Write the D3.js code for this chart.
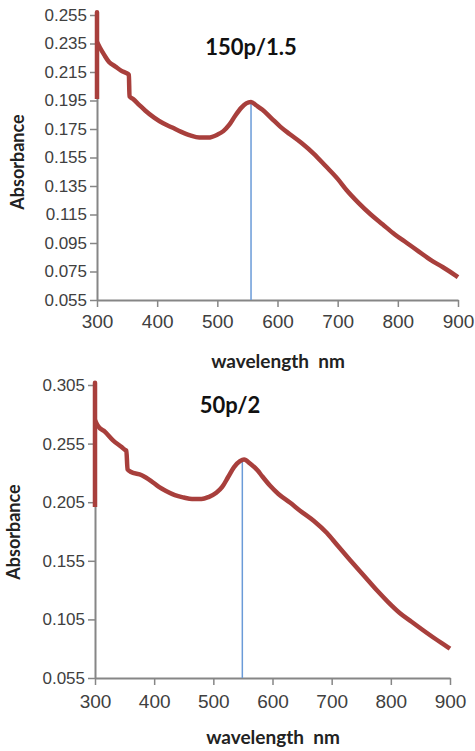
<!DOCTYPE html>
<html>
<head>
<meta charset="utf-8">
<script src="https://cdn.jsdelivr.net/npm/d3@7"></script>
<style>
  body { margin: 0; background: #fff; }
  svg { display: block; font-family: Lato, 'Open Sans', sans-serif; }
  .axis path, .axis line { stroke: #868686; }
  .axis path { stroke-width: 2; }
  .axis line { stroke-width: 1.5; }
  .axis text { fill: #404040; }
</style>
</head>
<body>
<div id="chart-area"></div>
<script>
// top panel: 150p/1.5
const topWl = [300, 300, 300, 305, 312, 320, 330, 340, 350, 353, 354, 360, 370, 380, 395, 410, 425, 440, 455, 470,
               485, 500, 510, 520, 530, 540, 548, 556, 565, 575, 590, 605, 620, 640, 660, 680, 700, 715, 735, 755,
               775, 795, 815, 835, 855, 875, 895, 900]
const topAbs = [0.196, 0.257, 0.236, 0.232, 0.227, 0.222, 0.219, 0.216, 0.214, 0.213, 0.198, 0.196, 0.192, 0.188, 0.183, 0.179, 0.176, 0.173, 0.1705, 0.169,
                0.169, 0.171, 0.1735, 0.178, 0.1845, 0.190, 0.193, 0.194, 0.1915, 0.1885, 0.1825, 0.1765, 0.1715, 0.1652, 0.1578, 0.149, 0.140, 0.132, 0.123, 0.115,
                0.108, 0.101, 0.095, 0.089, 0.083, 0.078, 0.0725, 0.071]
const topTicks = [0.055, 0.075, 0.095, 0.115, 0.135, 0.155, 0.175, 0.195, 0.215, 0.235, 0.255]
const topPeak = 556

// bottom panel: 50p/2
const botWl = [300, 300, 300, 305, 317, 330, 345, 351, 353, 355, 360, 379, 395, 408, 420, 435, 450, 464, 480, 492,
               505, 515, 525, 535, 545, 552, 562, 575, 582, 596, 610, 630, 646, 670, 692, 710, 731, 755, 776, 795,
               815, 835, 854, 875, 896, 900]
const botAbs = [0.201, 0.307, 0.275, 0.270, 0.265, 0.258, 0.252, 0.2495, 0.249, 0.233, 0.231, 0.228, 0.223, 0.218, 0.2145, 0.211, 0.209, 0.2077, 0.2077, 0.2094,
                0.213, 0.218, 0.2265, 0.235, 0.240, 0.2415, 0.238, 0.232, 0.2275, 0.219, 0.212, 0.2045, 0.198, 0.189, 0.1787, 0.168, 0.1557, 0.142, 0.130, 0.120,
                0.1105, 0.103, 0.096, 0.0885, 0.0814, 0.080]
const botTicks = [0.055, 0.105, 0.155, 0.205, 0.255, 0.305]
const botPeak = 549

const xTicks = [300, 400, 500, 600, 700, 800, 900]

const svg = d3.select('#chart-area')
              .append('svg')
              .attr('width', 475)
              .attr('height', 751)

const drawPanel = (p) => {
    const x = d3.scaleLinear().domain([300, 900]).range([p.left, p.right])
    const y = d3.scaleLinear().domain([0.055, p.yMax]).range([p.bottom, p.top])
    const g = svg.append('g')

    // Y Axis
    g.append('g')
     .attr('class', 'axis')
     .attr('transform', 'translate(' + p.left + ',0)')
     .call(d3.axisLeft(y).tickValues(p.ticks).tickFormat(d3.format('.3f')).tickSize(7).tickSizeOuter(0).tickPadding(3))
     .selectAll('text').attr('font-size', '17px')

    // X Axis
    g.append('g')
     .attr('class', 'axis')
     .attr('transform', 'translate(0,' + p.bottom + ')')
     .call(d3.axisBottom(x).tickValues(xTicks).tickSize(7).tickSizeOuter(0).tickPadding(p.xPad))
     .selectAll('text').attr('font-size', '19px')

    // peak marker
    g.append('line')
     .attr('x1', x(p.peak)).attr('x2', x(p.peak))
     .attr('y1', y(0.055)).attr('y2', y(p.abs[p.wl.indexOf(p.peakNear)]))
     .attr('stroke', '#6a9bd8')
     .attr('stroke-width', 1.5)

    const pts = p.wl.map((w, i) => [w, p.abs[i]])
    // the spike at 300 nm stays straight, the rest is smoothed
    const spike = pts.filter(d => d[0] === 300)
    const rest = pts.slice(spike.length - 1)
    const lineStraight = d3.line().x(d => x(d[0])).y(d => y(d[1]))
    const lineSmooth = d3.line().curve(d3.curveMonotoneX).x(d => x(d[0])).y(d => y(d[1]))

    g.selectAll('path.spec')
     .data([[spike, lineStraight], [rest, lineSmooth]])
     .enter().append('path')
     .attr('class', 'spec')
     .attr('fill', 'none')
     .attr('stroke', '#a83f3c')
     .attr('stroke-width', 4.5)
     .attr('stroke-linejoin', 'round')
     .attr('d', d => d[1](d[0]))

    // Title
    g.append('text')
     .attr('x', p.titleX).attr('y', p.titleY)
     .attr('text-anchor', 'middle')
     .attr('font-size', '22px').attr('font-weight', 'bold')
     .attr('fill', '#111')
     .text(p.title)

    // X Label
    g.append('text')
     .attr('x', p.xLabelX).attr('y', p.xLabelY)
     .attr('text-anchor', 'middle')
     .attr('font-size', '19px').attr('font-weight', 'bold')
     .attr('fill', '#222')
     .attr('xml:space', 'preserve')
     .text('wavelength  nm')

    // Y Label
    g.append('text')
     .attr('transform', 'translate(' + p.yLabelX + ',' + p.yLabelY + ') rotate(-90)')
     .attr('text-anchor', 'middle')
     .attr('font-size', '18px').attr('font-weight', 'bold')
     .attr('fill', '#222')
     .text('Absorbance')
}

drawPanel({ left: 97, right: 458, top: 15, bottom: 300, yMax: 0.255, ticks: topTicks, xPad: 8,
            wl: topWl, abs: topAbs, peak: topPeak, peakNear: 556, title: '150p/1.5', titleX: 251, titleY: 55,
            xLabelX: 278, xLabelY: 368, yLabelX: 24, yLabelY: 162 })

drawPanel({ left: 95, right: 450, top: 385, bottom: 678, yMax: 0.305, ticks: botTicks, xPad: 10,
            wl: botWl, abs: botAbs, peak: botPeak, peakNear: 552, title: '50p/2', titleX: 230, titleY: 413,
            xLabelX: 273, xLabelY: 744, yLabelX: 20, yLabelY: 532 })
</script>
</body>
</html>
